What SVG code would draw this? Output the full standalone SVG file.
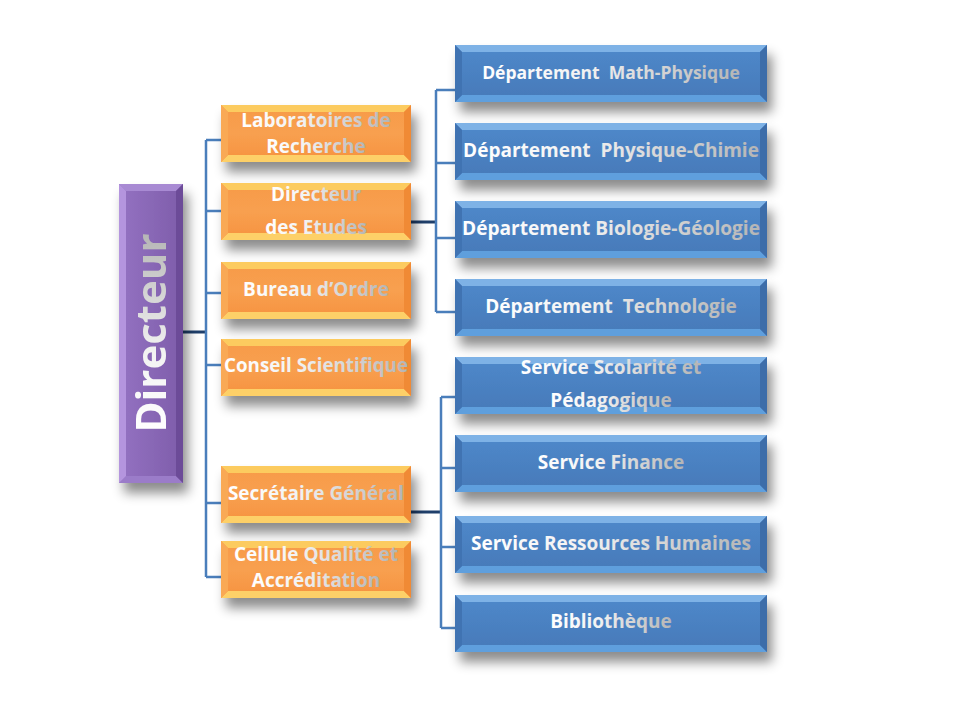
<svg xmlns="http://www.w3.org/2000/svg" width="960" height="720" viewBox="0 0 960 720">
<defs>
<style>
.t{font-family:"Open Sans","Liberation Sans",sans-serif;font-weight:bold;font-size:19px;text-anchor:middle;fill:url(#tg)}
.big{font-family:"Open Sans","Liberation Sans",sans-serif;font-weight:bold;font-size:42px;text-anchor:middle;fill:url(#tg)}
.c{fill:none;stroke:#4A7EBB;stroke-width:2.5}
.m{fill:none;stroke:#1F3F6B;stroke-width:3}
</style>
<linearGradient id="tg" x1="0" y1="0" x2="1" y2="0">
<stop offset="0" stop-color="#FFFFFF"/><stop offset="0.4" stop-color="#F2F2F2"/><stop offset="1" stop-color="#B5B5B5"/>
</linearGradient>
<linearGradient id="og" x1="0" y1="0" x2="0" y2="1">
<stop offset="0" stop-color="#F79A48"/><stop offset="0.5" stop-color="#F8A050"/><stop offset="1" stop-color="#F6923E"/>
</linearGradient>
<linearGradient id="bg" x1="0" y1="0" x2="0" y2="1">
<stop offset="0" stop-color="#4F89CB"/><stop offset="1" stop-color="#4679B8"/>
</linearGradient>
<linearGradient id="pg" x1="0" y1="0" x2="1" y2="0">
<stop offset="0" stop-color="#9472C2"/><stop offset="1" stop-color="#7E5DAA"/>
</linearGradient>
<filter id="sh" x="-20%" y="-20%" width="150%" height="170%">
<feGaussianBlur in="SourceAlpha" stdDeviation="6"/>
<feOffset dx="5" dy="10" result="b"/>
<feFlood flood-color="#000" flood-opacity="0.45"/>
<feComposite in2="b" operator="in"/>
<feMerge><feMergeNode/><feMergeNode in="SourceGraphic"/></feMerge>
</filter>
<g id="ob">
<rect width="190" height="57" fill="url(#og)"/>
<polygon points="0,0 190,0 183,7 7,7" fill="#FCCB5E"/>
<polygon points="0,57 190,57 183,50 7,50" fill="#FDD068"/>
<polygon points="0,0 7,7 7,50 0,57" fill="#F9A955"/>
<polygon points="190,0 183,7 183,50 190,57" fill="#F08A36"/>
</g>
<g id="bb">
<rect width="312" height="57" fill="url(#bg)"/>
<polygon points="0,0 312,0 305,7 7,7" fill="#7EB2E6"/>
<polygon points="0,57 312,57 305,50 7,50" fill="#5E9FDD"/>
<polygon points="0,0 7,7 7,50 0,57" fill="#3F73B2"/>
<polygon points="312,0 305,7 305,50 312,57" fill="#3C6DA9"/>
</g>
</defs>
<rect width="960" height="720" fill="#FFFFFF"/>

<g id="connectors">
<path class="m" d="M183,332 H206"/>
<path class="c" d="M206,140 V577"/>
<path class="c" d="M206,140 H221 M206,211 H221 M206,293 H221 M206,365 H221 M206,503 H221 M206,577 H221"/>
<path class="m" d="M411,222 H436"/>
<path class="c" d="M436,90 V312"/>
<path class="c" d="M436,90 H455 M436,163 H455 M436,238 H455 M436,312 H455"/>
<path class="m" d="M411,512 H441"/>
<path class="c" d="M441,397 V628"/>
<path class="c" d="M441,397 H455 M441,468 H455 M441,547 H455 M441,628 H455"/>
</g>

<g id="directeur" filter="url(#sh)">
<rect x="119" y="184" width="64" height="299" fill="url(#pg)"/>
<polygon points="119,184 183,184 176,191 126,191" fill="#A88AD3"/>
<polygon points="119,483 183,483 176,476 126,476" fill="#9B7BC9"/>
<polygon points="119,184 126,191 126,476 119,483" fill="#B495DE"/>
<polygon points="183,184 176,191 176,476 183,483" fill="#6C4C98"/>
<text class="big" transform="translate(151,333) rotate(-90)" dy="15">Directeur</text>
</g>

<g id="labo"><use href="#ob" x="221" y="105" filter="url(#sh)"/>
<text class="t" x="316" y="127">Laboratoires de</text><text class="t" x="316" y="153">Recherche</text></g>
<g id="dir-etudes"><use href="#ob" x="221" y="183" filter="url(#sh)"/>
<text class="t" x="316" y="201">Directeur</text><text class="t" x="316" y="234">des Etudes</text></g>
<g id="bureau"><use href="#ob" x="221" y="262" filter="url(#sh)"/>
<text class="t" x="316" y="296">Bureau d’Ordre</text></g>
<g id="conseil"><use href="#ob" x="221" y="339" filter="url(#sh)"/>
<text class="t" x="316" y="372" textLength="184" lengthAdjust="spacingAndGlyphs">Conseil Scientifique</text></g>
<g id="secretaire"><use href="#ob" x="221" y="466" filter="url(#sh)"/>
<text class="t" x="316" y="500">Secrétaire Général</text></g>
<g id="cellule"><use href="#ob" x="221" y="541" filter="url(#sh)"/>
<text class="t" x="316" y="561">Cellule Qualité et</text><text class="t" x="316" y="587">Accréditation</text></g>

<g id="math"><use href="#bb" x="455" y="45" filter="url(#sh)"/>
<text class="t" x="611" y="79" style="font-size:17.5px" xml:space="preserve">Département  Math-Physique</text></g>
<g id="physchim"><use href="#bb" x="455" y="123" filter="url(#sh)"/>
<text class="t" x="611" y="157" xml:space="preserve">Département  Physique-Chimie</text></g>
<g id="bio"><use href="#bb" x="455" y="201" filter="url(#sh)"/>
<text class="t" x="611" y="235" textLength="298" lengthAdjust="spacingAndGlyphs">Département Biologie-Géologie</text></g>
<g id="techno"><use href="#bb" x="455" y="279" filter="url(#sh)"/>
<text class="t" x="611" y="313" xml:space="preserve">Département  Technologie</text></g>
<g id="scolarite"><use href="#bb" x="455" y="357" filter="url(#sh)"/>
<text class="t" x="611" y="374">Service Scolarité et</text><text class="t" x="611" y="407">Pédagogique</text></g>
<g id="finance"><use href="#bb" x="455" y="435" filter="url(#sh)"/>
<text class="t" x="611" y="469">Service Finance</text></g>
<g id="rh"><use href="#bb" x="455" y="516" filter="url(#sh)"/>
<text class="t" x="611" y="550">Service Ressources Humaines</text></g>
<g id="biblio"><use href="#bb" x="455" y="595" filter="url(#sh)"/>
<text class="t" x="611" y="628">Bibliothèque</text></g>
</svg>
